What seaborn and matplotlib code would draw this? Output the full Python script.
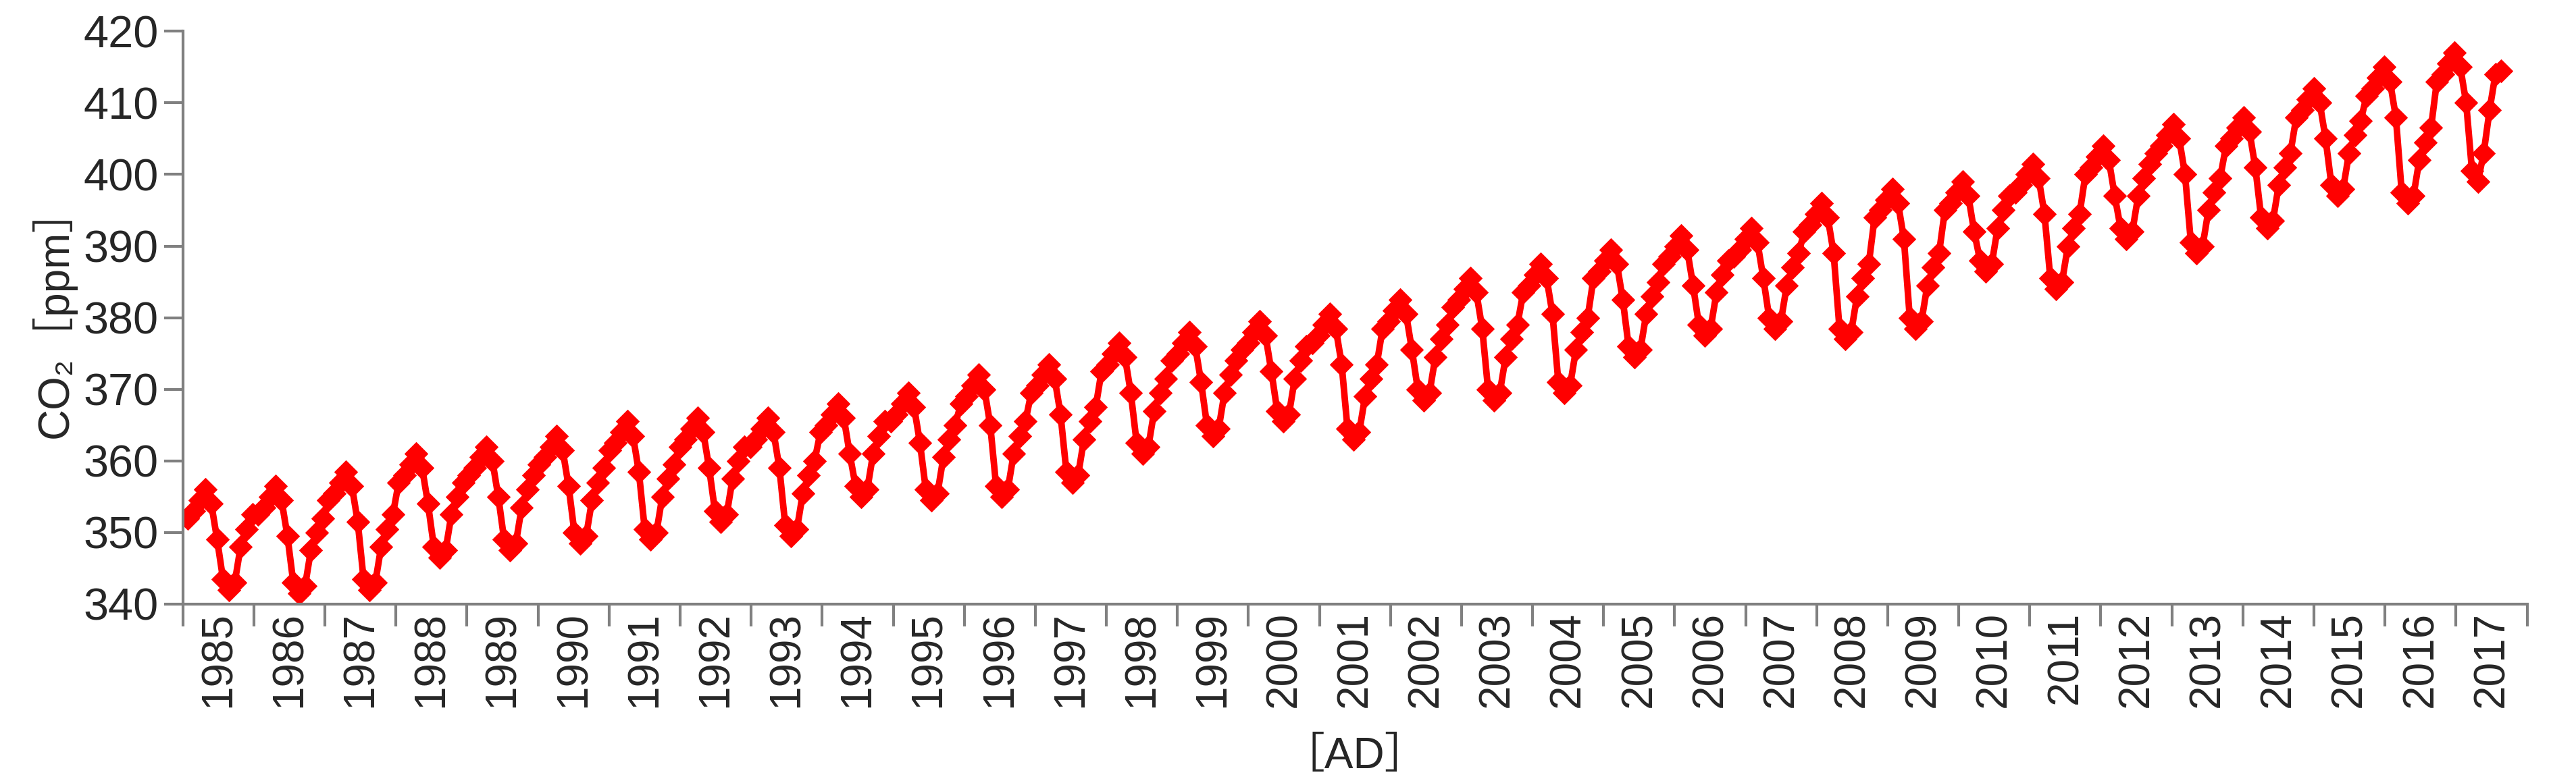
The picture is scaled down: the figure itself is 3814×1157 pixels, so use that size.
import numpy as np
import pandas as pd
import matplotlib
matplotlib.use('Agg')
import matplotlib.pyplot as plt
import seaborn as sns

# monthly CO2 values (ppm), one row per year
years = list(range(1985, 2018))
co2_1985 = [352, 353, 354.5, 356, 354, 349, 343.5, 342, 343, 348, 350.5, 352.5]
co2_1986 = [352.5, 353.5, 355, 356.5, 354.5, 349.5, 343, 341.5, 342.5, 347.5, 350, 352]
co2_1987 = [354.5, 355.5, 357, 358.5, 356.5, 351.5, 343.5, 342, 343, 348, 350.5, 352.5]
co2_1988 = [357, 358, 359.5, 361, 359, 354, 348, 346.5, 347.5, 352.5, 355, 357]
co2_1989 = [358, 359, 360.5, 362, 360, 355, 349, 347.5, 348.5, 353.5, 356, 358]
co2_1990 = [359.5, 360.5, 362, 363.5, 361.5, 356.5, 350, 348.5, 349.5, 354.5, 357, 359]
co2_1991 = [361.5, 362.5, 364, 365.5, 363.5, 358.5, 350.5, 349, 350, 355, 357.5, 359.5]
co2_1992 = [362, 363, 364.5, 366, 364, 359, 353, 351.5, 352.5, 357.5, 360, 362]
co2_1993 = [362, 363, 364.5, 366, 364, 359, 351, 349.5, 350.5, 355.5, 358, 360]
co2_1994 = [364, 365, 366.5, 368, 366, 361, 356.5, 355, 356, 361, 363.5, 365.5]
co2_1995 = [365.5, 366.5, 368, 369.5, 367.5, 362.5, 356, 354.5, 355.5, 360.5, 363, 365]
co2_1996 = [368, 369, 370.5, 372, 370, 365, 356.5, 355, 356, 361, 363.5, 365.5]
co2_1997 = [369.5, 370.5, 372, 373.5, 371.5, 366.5, 358.5, 357, 358, 363, 365.5, 367.5]
co2_1998 = [372.5, 373.5, 375, 376.5, 374.5, 369.5, 362.5, 361, 362, 367, 369.5, 371.5]
co2_1999 = [374, 375, 376.5, 378, 376, 371, 365, 363.5, 364.5, 369.5, 372, 374]
co2_2000 = [375.5, 376.5, 378, 379.5, 377.5, 372.5, 367, 365.5, 366.5, 371.5, 374, 376]
co2_2001 = [376.5, 377.5, 379, 380.5, 378.5, 373.5, 364.5, 363, 364, 369, 371.5, 373.5]
co2_2002 = [378.5, 379.5, 381, 382.5, 380.5, 375.5, 370, 368.5, 369.5, 374.5, 377, 379]
co2_2003 = [381.5, 382.5, 384, 385.5, 383.5, 378.5, 370, 368.5, 369.5, 374.5, 377, 379]
co2_2004 = [383.5, 384.5, 386, 387.5, 385.5, 380.5, 371, 369.5, 370.5, 375.5, 378, 380]
co2_2005 = [385.5, 386.5, 388, 389.5, 387.5, 382.5, 376, 374.5, 375.5, 380.5, 383, 385]
co2_2006 = [387.5, 388.5, 390, 391.5, 389.5, 384.5, 379, 377.5, 378.5, 383.5, 386, 388]
co2_2007 = [388.5, 389.5, 391, 392.5, 390.5, 385.5, 380, 378.5, 379.5, 384.5, 387, 389]
co2_2008 = [392, 393, 394.5, 396, 394, 389, 378.5, 377, 378, 383, 385.5, 387.5]
co2_2009 = [394, 395, 396.5, 398, 396, 391, 380, 378.5, 379.5, 384.5, 387, 389]
co2_2010 = [395, 396, 397.5, 399, 397, 392, 388, 386.5, 387.5, 392.5, 395, 397]
co2_2011 = [397.5, 398.5, 400, 401.5, 399.5, 394.5, 385.5, 384, 385, 390, 392.5, 394.5]
co2_2012 = [400, 401, 402.5, 404, 402, 397, 392.5, 391, 392, 397, 399.5, 401.5]
co2_2013 = [403, 404, 405.5, 407, 405, 400, 390.5, 389, 390, 395, 397.5, 399.5]
co2_2014 = [404, 405, 406.5, 408, 406, 401, 394, 392.5, 393.5, 398.5, 401, 403]
co2_2015 = [408, 409, 410.5, 412, 410, 405, 398.5, 397, 398, 403, 405.5, 407.5]
co2_2016 = [411, 412, 413.5, 415, 413, 408, 397.5, 396, 397, 402, 404.5, 406.5]
co2_2017 = [413, 414, 415.5, 417, 415, 410, 400.5, 399, 403, 409, 414, 414.5]

all_years = [co2_1985, co2_1986, co2_1987, co2_1988, co2_1989, co2_1990, co2_1991,
             co2_1992, co2_1993, co2_1994, co2_1995, co2_1996, co2_1997, co2_1998,
             co2_1999, co2_2000, co2_2001, co2_2002, co2_2003, co2_2004, co2_2005,
             co2_2006, co2_2007, co2_2008, co2_2009, co2_2010, co2_2011, co2_2012,
             co2_2013, co2_2014, co2_2015, co2_2016, co2_2017]

values = [v for year_vals in all_years for v in year_vals]
df = pd.DataFrame({'idx': np.arange(len(values)), 'co2': values})

sns.set_theme(style='white')
plt.rcParams['font.family'] = ['Liberation Sans', 'Noto Sans CJK JP', 'DejaVu Sans']

fig = plt.figure(figsize=(38.14, 11.57), dpi=100)
ax = fig.add_axes([0.071, 0.2265, 0.91, 0.7335])

sns.lineplot(data=df, x='idx', y='co2', ax=ax, color='#ff0000', linewidth=7,
             marker='D', markersize=17, markeredgecolor='#ff0000')

# the category axis in the original spreads 33 year labels evenly
x0, x1 = -0.85, 399.4
edges = np.linspace(x0, x1, len(years) + 1)
centers = (edges[:-1] + edges[1:]) / 2
ax.set_xlim(x0, x1)
ax.set_xticks(edges)
ax.set_xticklabels([])
ax.set_xticks(centers, minor=True)
ax.set_xticklabels([str(y) for y in years], minor=True, rotation=90, fontsize=46)
ax.tick_params(axis='x', which='major', length=24, width=3, color='#808080', direction='out', bottom=True)
ax.tick_params(axis='x', which='minor', length=0, pad=8)

ax.set_ylim(340, 420)
ax.set_yticks(range(340, 421, 10))
ax.tick_params(axis='y', labelsize=48, length=20, width=3, color='#808080', direction='out', left=True, pad=6)

for s in ['top', 'right']:
    ax.spines[s].set_visible(False)
for s in ['left', 'bottom']:
    ax.spines[s].set_color('#808080')
    ax.spines[s].set_linewidth(3)

ax.set_xlabel('')
ax.set_ylabel('')
fig.text(0.526, 0.005, '［AD］', fontsize=46, ha='center', va='bottom')
fig.text(0.012, 0.60, 'CO₂［ppm］', fontsize=46, rotation=90, ha='left', va='center')

fig.savefig('out.png', dpi=100)
